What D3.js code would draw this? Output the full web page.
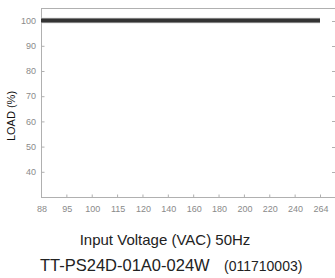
<!DOCTYPE html>
<html>
<head>
<meta charset="utf-8">
<script src="https://cdn.jsdelivr.net/npm/d3@7"></script>
<style>
  body { margin: 0; background: #fff; }
  svg { display: block; }
</style>
</head>
<body>
<div id="chart"></div>
<script>
// donnees
const voltages = ["88", "95", "100", "115", "120", "140", "160", "180", "200", "220", "240", "264"];
const load = [100, 100, 100, 100, 100, 100, 100, 100, 100, 100, 100, 100];
const yTicks = [40, 50, 60, 70, 80, 90, 100];

const width = 335,
  height = 278;
const plotLeft = 41,
  plotRight = 335,
  plotTop = 8,
  plotBottom = 197;

const svg = d3.select("#chart").append("svg")
  .attr("width", width)
  .attr("height", height);

const x = d3.scalePoint().domain(voltages).range([plotLeft, 320]);
const y = d3.scaleLinear().domain([30, 105]).range([plotBottom, plotTop]);

const grey = "#b0b0b0";
const labelColor = "#8a8a8a";
const tickFont = "'Liberation Sans Narrow', 'Liberation Sans', Arial, sans-serif";

// cadre : haut, gauche, bas
svg.append("line").attr("x1", plotLeft).attr("x2", plotRight).attr("y1", plotTop + 0.5).attr("y2", plotTop + 0.5)
  .attr("stroke", grey);
svg.append("line").attr("x1", plotLeft + 0.5).attr("x2", plotLeft + 0.5).attr("y1", plotTop).attr("y2", plotBottom)
  .attr("stroke", grey);
svg.append("line").attr("x1", plotLeft).attr("x2", plotRight).attr("y1", plotBottom + 0.5).attr("y2", plotBottom + 0.5)
  .attr("stroke", grey);

// axe Y
const yAxis = svg.append("g")
  .attr("transform", "translate(" + (plotLeft + 0.5) + ",0)")
  .call(d3.axisRight(y).tickValues(yTicks).tickSize(3).tickFormat(""));
yAxis.select(".domain").remove();
yAxis.selectAll("line").attr("stroke", grey);

svg.selectAll(".ylab")
  .data(yTicks)
  .enter()
  .append("text")
  .attr("class", "ylab")
  .attr("x", 36)
  .attr("y", d => y(d))
  .attr("dy", "0.35em")
  .attr("text-anchor", "end")
  .style("font-family", tickFont)
  .style("font-size", "9px")
  .attr("fill", labelColor)
  .text(d => d);

// petits traits a droite
svg.selectAll(".rtick")
  .data(yTicks)
  .enter()
  .append("line")
  .attr("x1", 332)
  .attr("x2", 335)
  .attr("y1", d => Math.round(y(d)) + 0.5)
  .attr("y2", d => Math.round(y(d)) + 0.5)
  .attr("stroke", grey);

// axe X
const xAxis = svg.append("g")
  .attr("transform", "translate(0," + (plotBottom + 0.5) + ")")
  .call(d3.axisTop(x).tickSize(3).tickFormat(""));
xAxis.select(".domain").remove();
xAxis.selectAll("line").attr("stroke", grey);

svg.selectAll(".xlab")
  .data(voltages)
  .enter()
  .append("text")
  .attr("class", "xlab")
  .attr("x", d => x(d) + 1)
  .attr("y", 212)
  .attr("text-anchor", "middle")
  .style("font-family", tickFont)
  .style("font-size", "9px")
  .attr("fill", labelColor)
  .text(d => d);

// la courbe
const line = d3.line()
  .x((d, i) => x(voltages[i]))
  .y(d => y(d));

svg.append("path")
  .datum(load)
  .attr("d", line)
  .attr("fill", "none")
  .attr("stroke", "#c8c8c8")
  .attr("stroke-width", 5.5);
svg.append("path")
  .datum(load)
  .attr("d", line)
  .attr("fill", "none")
  .attr("stroke", "#333")
  .attr("stroke-width", 4);

// titres
svg.append("text")
  .attr("transform", "translate(15,116) rotate(-90)")
  .attr("text-anchor", "middle")
  .style("font-family", "'Liberation Sans', Arial, sans-serif")
  .style("font-size", "11px")
  .attr("fill", "#111")
  .text("LOAD (%)");

svg.append("text")
  .attr("x", 165)
  .attr("y", 245)
  .attr("text-anchor", "middle")
  .style("font-family", "'Liberation Sans', Arial, sans-serif")
  .style("font-size", "15px")
  .attr("fill", "#222")
  .text("Input Voltage (VAC) 50Hz");

const idLine = svg.append("text")
  .attr("x", 40)
  .attr("y", 271)
  .style("font-family", "'Liberation Sans', Arial, sans-serif")
  .attr("fill", "#222");
idLine.append("tspan").style("font-size", "16.5px").text("TT-PS24D-01A0-024W");
idLine.append("tspan").attr("x", 224).style("font-size", "14px").text("(011710003)");
</script>
</body>
</html>
